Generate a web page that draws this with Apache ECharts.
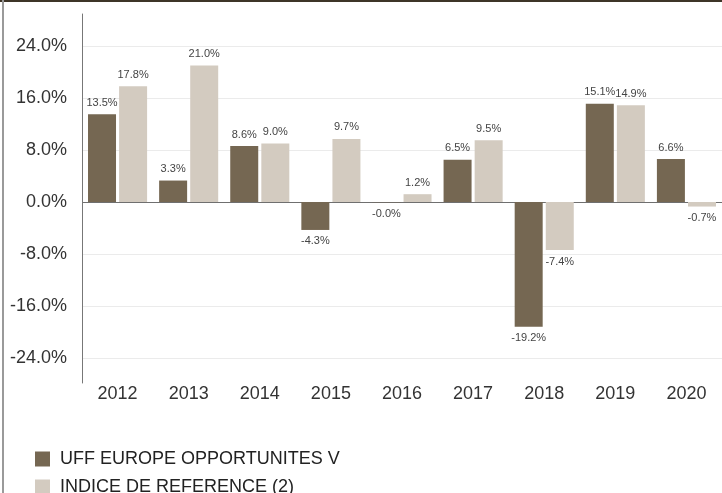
<!DOCTYPE html>
<html style="height: 100%">
<head>
    <meta charset="utf-8">
</head>
<body style="height: 100%; margin: 0; background: #fff">
<div id="wrap" style="position: relative; width: 722px; height: 493px; overflow: hidden">
    <div id="container" style="width: 722px; height: 493px"></div>
    <div style="position: absolute; left: 0; top: 0; width: 722px; height: 2px; background: #3e3528"></div>
    <div style="position: absolute; left: 2px; top: 0; width: 2px; height: 493px; background: #9a9a9a"></div>
</div>

<script type="text/javascript" src="https://cdn.jsdelivr.net/npm/echarts@6/dist/echarts.min.js"></script>
<script type="text/javascript">
    // donnees
    var years = ['2012', '2013', '2014', '2015', '2016', '2017', '2018', '2019', '2020'];
    var fundName = 'UFF EUROPE OPPORTUNITES V';
    var indexName = 'INDICE DE REFERENCE (2)';
    var fundValues = [13.5, 3.3, 8.6, -4.3, -0.04, 6.5, -19.2, 15.1, 6.6];
    var indexValues = [17.8, 21.0, 9.0, 9.7, 1.2, 9.5, -7.4, 14.9, -0.7];
    var yTicks = { min: -24, max: 24, step: 8 };

    var font = 'Liberation Sans, Arial, sans-serif';
    var dom = document.getElementById('container');
    var myChart = echarts.init(dom);

    function pct(v) {
        return v.toFixed(1) + '%';
    }

    var barLabel = {
        show: true,
        position: 'outside',
        distance: 6,
        fontSize: 11,
        fontFamily: font,
        color: '#444',
        formatter: function (p) { return pct(p.value); }
    };

    // une legende par ligne
    function legendRow(name, top) {
        return {
            left: 35,
            top: top,
            padding: 0,
            itemWidth: 15,
            itemHeight: 15,
            icon: 'rect',
            textStyle: { fontSize: 18, fontFamily: font, color: '#222', padding: [0, 0, 0, 5] },
            data: [name]
        };
    }

    var option = {
        animation: false,
        grid: [
            { left: 82, right: 0, top: 46, bottom: 135 },
            { left: 82, right: 0, top: 14, bottom: 110 }
        ],
        legend: [legendRow(fundName, 450), legendRow(indexName, 478)],
        xAxis: [{
            type: 'category',
            gridIndex: 0,
            data: years,
            axisLine: { show: false },
            axisTick: { show: false },
            axisLabel: { fontSize: 18, fontFamily: font, color: '#333', margin: 27 }
        }, {
            type: 'category',
            gridIndex: 1,
            show: false,
            data: years
        }],
        yAxis: [{
            type: 'value',
            gridIndex: 0,
            min: yTicks.min,
            max: yTicks.max,
            interval: yTicks.step,
            axisLine: { show: false },
            axisTick: { show: false },
            axisLabel: {
                fontSize: 18, fontFamily: font, color: '#333', margin: 15,
                formatter: function (v) { return pct(v); }
            },
            splitLine: {
                lineStyle: {
                    color: ['#ebebeb', '#ebebeb', '#ebebeb', '#6f6f6f', '#ebebeb', '#ebebeb', '#ebebeb'],
                    width: 1
                }
            }
        }, {
            type: 'value',
            gridIndex: 1,
            min: 0,
            max: 1,
            axisLine: { show: true, lineStyle: { color: '#777', width: 1 } },
            axisTick: { show: false },
            axisLabel: { show: false },
            splitLine: { show: false }
        }],
        series: [{
            name: fundName,
            type: 'bar',
            xAxisIndex: 0,
            yAxisIndex: 0,
            data: fundValues,
            barWidth: 28,
            barGap: '11%',
            itemStyle: { color: '#756752' },
            label: barLabel
        }, {
            name: indexName,
            type: 'bar',
            xAxisIndex: 0,
            yAxisIndex: 0,
            data: indexValues,
            barWidth: 28,
            barGap: '11%',
            itemStyle: { color: '#d3cbc0' },
            label: barLabel
        }]
    };

    myChart.setOption(option);
</script>
</body>
</html>
